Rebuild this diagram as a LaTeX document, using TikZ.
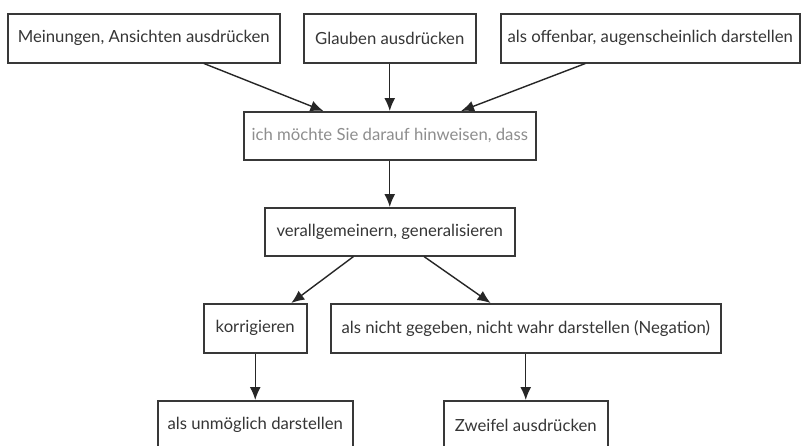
\documentclass[tikz,border=0pt]{standalone}
\usepackage{fontspec}
\setmainfont{Lato}
\usetikzlibrary{arrows.meta,calc}
\definecolor{boxc}{HTML}{383838}
\definecolor{txt}{HTML}{363636}
\definecolor{soft}{HTML}{8E8E8E}
\definecolor{arr}{HTML}{262626}
\begin{document}
\begin{tikzpicture}[x=1pt,y=-1pt,
  box/.style={draw=boxc, line width=1.5pt, inner sep=0pt, anchor=north west,
    font=\fontsize{16.7}{20}\selectfont, text=txt},
  link/.style={draw=arr, line width=1.4pt, -{Latex[length=13pt,width=11pt]}}]
\fill[white] (0,0) rectangle (801,445);
\clip (0,0) rectangle (801,445);
\useasboundingbox (0,0) rectangle (801,445);
\node[box, minimum width=272pt, minimum height=49pt] (A) at (7,13) {Meinungen, Ansichten ausdrücken};
\node[box, minimum width=172pt, minimum height=49pt] (B) at (303,13) {Glauben ausdrücken};
\node[box, minimum width=299pt, minimum height=49pt] (C) at (500,13) {als offenbar, augenscheinlich darstellen};
\node[box, minimum width=292pt, minimum height=48pt, text=soft] (D) at (243,111) {ich möchte Sie darauf hinweisen, dass};
\node[box, minimum width=250pt, minimum height=48pt] (E) at (264,207) {verallgemeinern, generalisieren};
\node[box, minimum width=103pt, minimum height=49pt] (F) at (203,303) {korrigieren};
\node[box, minimum width=390pt, minimum height=49pt] (G) at (330,303) {als nicht gegeben, nicht wahr darstellen (Negation)};
\node[box, minimum width=195pt, minimum height=49pt] (H) at (157,400) {als unmöglich darstellen};
\node[box, minimum width=164pt, minimum height=49pt] (I) at (443,400) {Zweifel ausdrücken};
\draw[link] ($(A.south west)!0.72!(A.south east)$) -- ($(D.north west)!0.274!(D.north east)$);
\draw[link] (B.south) -- (D.north);
\draw[link] ($(C.south west)!0.284!(C.south east)$) -- ($(D.north west)!0.743!(D.north east)$);
\draw[link] (D.south) -- (E.north);
\draw[link] ($(E.south west)!0.356!(E.south east)$) -- ($(F.north west)!0.845!(F.north east)$);
\draw[link] ($(E.south west)!0.636!(E.south east)$) -- ($(G.north west)!0.41!(G.north east)$);
\draw[link] (F.south) -- (H.north);
\draw[link] (G.south) -- (I.north);
\end{tikzpicture}
\end{document}
